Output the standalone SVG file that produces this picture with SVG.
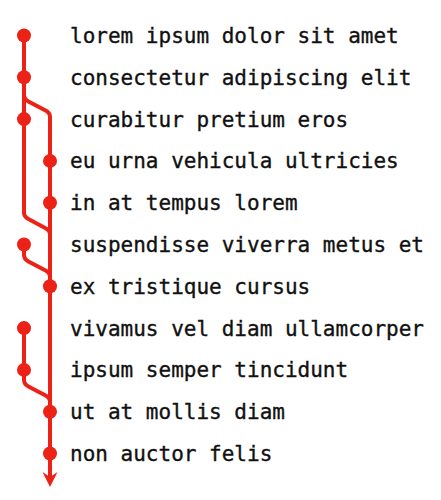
<svg xmlns="http://www.w3.org/2000/svg" width="441" height="500" viewBox="0 0 441 500">
<style>
.dot{fill:#ec2217}
.lbl{font-family:"DejaVu Sans Mono","Liberation Mono",monospace;font-size:21px;fill:#111;stroke:#111;stroke-width:0.35}
.ln{fill:none;stroke:#ec2217;stroke-width:4}
</style>
<defs>
<marker id="arrow" markerWidth="16" markerHeight="16" refX="5" refY="8" orient="auto" markerUnits="userSpaceOnUse">
<path d="M15,8 L0,0.5 L5,8 L0,15.5 Z" fill="#ec2217"/>
</marker>
</defs>
<rect width="441" height="500" fill="#fff"/>
<g id="connectors">
<path class="ln" d="M24,35.5 V212.7 Q24,216.7 28.4,219 L45.6,228.2 Q50,230.5 50,234.5"/>
<path class="ln" d="M24,95 Q24,99 28.4,101.4 L45.6,110.5 Q50,112.8 50,116.8 V477" marker-end="url(#arrow)"/>
<path class="ln" d="M24,244.5 V255 Q24,259 28.4,261.4 L45.6,270.5 Q50,272.8 50,276.8"/>
<path class="ln" d="M24,328.1 V380 Q24,384 28.4,386.4 L45.6,395.5 Q50,397.8 50,401.8"/>
</g>
<g id="n1"><circle class="dot" cx="24" cy="35.5" r="7"/><text class="lbl" x="70" y="43">lorem ipsum dolor sit amet</text></g>
<g id="n2"><circle class="dot" cx="24" cy="77.3" r="7"/><text class="lbl" x="70" y="84.8">consectetur adipiscing elit</text></g>
<g id="n3"><circle class="dot" cx="24" cy="119.1" r="7"/><text class="lbl" x="70" y="126.6">curabitur pretium eros</text></g>
<g id="n4"><circle class="dot" cx="50" cy="160.9" r="7"/><text class="lbl" x="70" y="168.4">eu urna vehicula ultricies</text></g>
<g id="n5"><circle class="dot" cx="50" cy="202.7" r="7"/><text class="lbl" x="70" y="210.2">in at tempus lorem</text></g>
<g id="n6"><circle class="dot" cx="24" cy="244.5" r="7"/><text class="lbl" x="70" y="252">suspendisse viverra metus et</text></g>
<g id="n7"><circle class="dot" cx="50" cy="286.3" r="7"/><text class="lbl" x="70" y="293.8">ex tristique cursus</text></g>
<g id="n8"><circle class="dot" cx="24" cy="328.1" r="7"/><text class="lbl" x="70" y="335.6">vivamus vel diam ullamcorper</text></g>
<g id="n9"><circle class="dot" cx="24" cy="369.9" r="7"/><text class="lbl" x="70" y="377.4">ipsum semper tincidunt</text></g>
<g id="n10"><circle class="dot" cx="50" cy="411.7" r="7"/><text class="lbl" x="70" y="419.2">ut at mollis diam</text></g>
<g id="n11"><circle class="dot" cx="50" cy="453.5" r="7"/><text class="lbl" x="70" y="461">non auctor felis</text></g>
</svg>
